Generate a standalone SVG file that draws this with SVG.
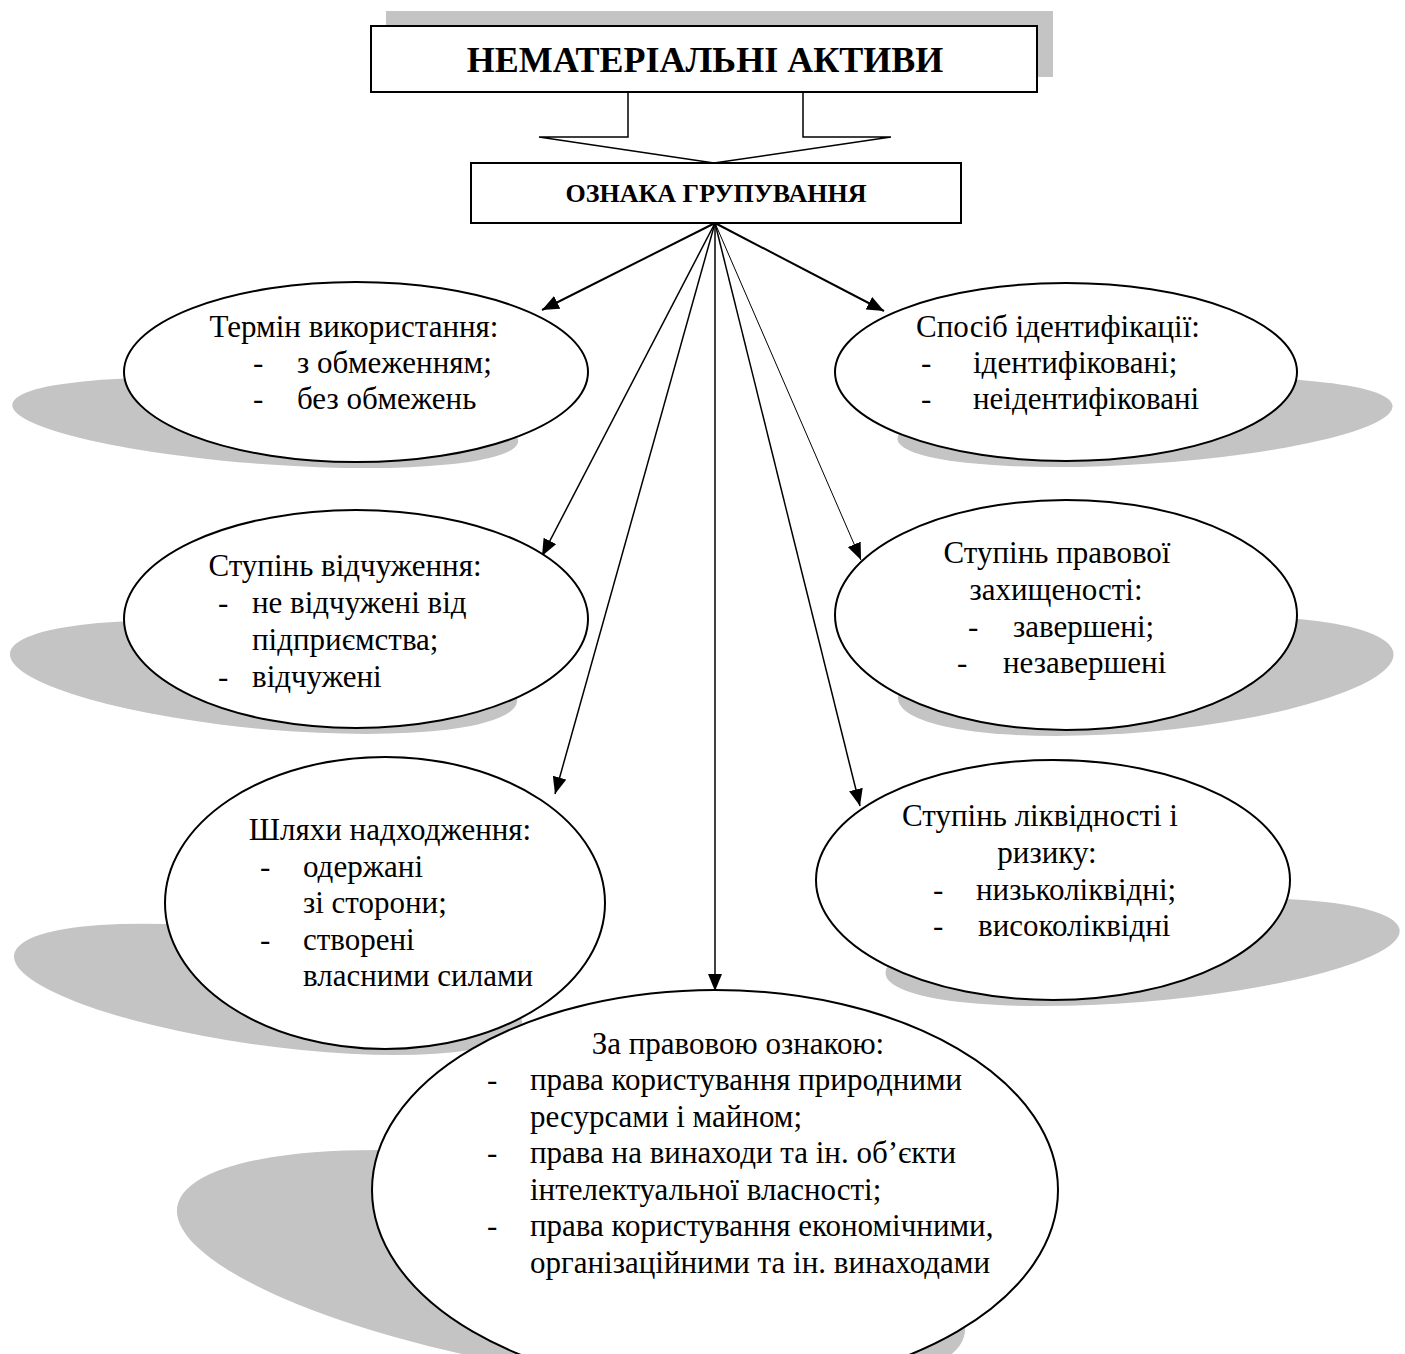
<svg xmlns="http://www.w3.org/2000/svg" width="1405" height="1354" viewBox="0 0 1405 1354">
<style>
text{font-family:"Liberation Serif","Times New Roman",serif;fill:#000}
.t{font-size:31px}
.c{text-anchor:middle}
.node{fill:#fff;stroke:#000;stroke-width:2}
.shadow{fill:#c4c4c4;stroke:none}
.con{stroke:#000;fill:none}
</style>
<defs>
<marker id="ah" markerUnits="userSpaceOnUse" markerWidth="18" markerHeight="14" refX="17" refY="7" orient="auto">
<path d="M0,0 L17,7 L0,14 z" fill="#000"/>
</marker>
</defs>
<rect width="1405" height="1354" fill="#fff"/>

<g id="title">
<rect x="386" y="11" width="667" height="66" class="shadow"/>
<rect x="371" y="26" width="666" height="66" class="node"/>
<text x="705" y="72" class="c" style="font-size:36px;font-weight:bold">НЕМАТЕРІАЛЬНІ АКТИВИ</text>
</g>

<g id="group-sign">
<rect x="471" y="163" width="490" height="60" class="node"/>
<text x="716" y="202" class="c" style="font-size:26px;font-weight:bold">ОЗНАКА ГРУПУВАННЯ</text>
</g>

<g id="shadows">
<ellipse cx="356" cy="372" rx="232" ry="90" class="shadow" transform="matrix(1,0,1.12,0.5,-507.4,237)"/>
<ellipse cx="356" cy="619" rx="232" ry="109" class="shadow" transform="matrix(1,0,0.94,0.52,-674.3,355.4)"/>
<ellipse cx="385" cy="903" rx="220" ry="146" class="shadow" transform="matrix(1,0,0.87,0.45,-902.6,583)"/>
<ellipse cx="715" cy="1190" rx="343" ry="200" class="shadow" transform="matrix(1,0,0.97,0.6,-1298.3,556)"/>
<ellipse cx="1066" cy="372" rx="231" ry="89" class="shadow" transform="matrix(1,0,-1,0.5,451,236.5)"/>
<ellipse cx="1066" cy="615" rx="231" ry="115" class="shadow" transform="matrix(1,0,-0.78,0.52,559.4,356.4)"/>
<ellipse cx="1053" cy="880" rx="237" ry="120" class="shadow" transform="matrix(1,0,-0.83,0.45,820,556)"/>
</g>

<g id="connectors">
<polyline class="con" stroke-width="1.5" points="628,92 628,137 539,137 714,163 891,137 803,137 803,92"/>
<line class="con" stroke-width="2" x1="715" y1="223" x2="542" y2="310" marker-end="url(#ah)"/>
<line class="con" stroke-width="2" x1="715" y1="223" x2="884" y2="311" marker-end="url(#ah)"/>
<line class="con" stroke-width="1.5" x1="715" y1="223" x2="542" y2="556" marker-end="url(#ah)"/>
<line class="con" stroke-width="1" x1="715" y1="223" x2="861" y2="560" marker-end="url(#ah)"/>
<line class="con" stroke-width="1.5" x1="715" y1="223" x2="555" y2="794" marker-end="url(#ah)"/>
<line class="con" stroke-width="1.5" x1="715" y1="223" x2="860" y2="806" marker-end="url(#ah)"/>
<line class="con" stroke-width="1.5" x1="715" y1="223" x2="715" y2="991" marker-end="url(#ah)"/>
</g>

<g id="term">
<ellipse cx="356" cy="372" rx="232" ry="90" class="node"/>
<text class="t c" x="354" y="337">Термін використання:</text>
<text class="t" x="253" y="373">-</text><text class="t" x="297" y="373">з обмеженням;</text>
<text class="t" x="253" y="409">-</text><text class="t" x="297" y="409">без обмежень</text>
</g>

<g id="identification">
<ellipse cx="1066" cy="372" rx="231" ry="89" class="node"/>
<text class="t c" x="1058" y="337">Спосіб ідентифікації:</text>
<text class="t" x="921" y="373">-</text><text class="t" x="973" y="373">ідентифіковані;</text>
<text class="t" x="921" y="409">-</text><text class="t" x="973" y="409">неідентифіковані</text>
</g>

<g id="alienation">
<ellipse cx="356" cy="619" rx="232" ry="109" class="node"/>
<text class="t c" x="345" y="576">Ступінь відчуження:</text>
<text class="t" x="218" y="613">-</text><text class="t" x="252" y="613">не відчужені від</text>
<text class="t" x="252" y="650">підприємства;</text>
<text class="t" x="218" y="687">-</text><text class="t" x="252" y="687">відчужені</text>
</g>

<g id="legal-protection">
<ellipse cx="1066" cy="615" rx="231" ry="115" class="node"/>
<text class="t c" x="1057" y="563">Ступінь правової</text>
<text class="t c" x="1056" y="600">захищеності:</text>
<text class="t" x="968" y="637">-</text><text class="t" x="1013" y="637">завершені;</text>
<text class="t" x="957" y="673">-</text><text class="t" x="1003" y="673">незавершені</text>
</g>

<g id="receipt">
<ellipse cx="385" cy="903" rx="220" ry="146" class="node"/>
<text class="t c" x="390" y="840">Шляхи надходження:</text>
<text class="t" x="260" y="877">-</text><text class="t" x="303" y="877">одержані</text>
<text class="t" x="303" y="913">зі сторони;</text>
<text class="t" x="260" y="950">-</text><text class="t" x="303" y="950">створені</text>
<text class="t" x="303" y="986">власними силами</text>
</g>

<g id="liquidity">
<ellipse cx="1053" cy="880" rx="237" ry="120" class="node"/>
<text class="t c" x="1040" y="826">Ступінь ліквідності і</text>
<text class="t c" x="1047" y="863">ризику:</text>
<text class="t" x="933" y="900">-</text><text class="t" x="976" y="900">низьколіквідні;</text>
<text class="t" x="933" y="936">-</text><text class="t" x="978" y="936">високоліквідні</text>
</g>

<g id="legal-sign">
<ellipse cx="715" cy="1190" rx="343" ry="200" class="node"/>
<text class="t c" x="738" y="1054">За правовою ознакою:</text>
<text class="t" x="487" y="1090">-</text><text class="t" x="530" y="1090">права користування природними</text>
<text class="t" x="530" y="1127">ресурсами і майном;</text>
<text class="t" x="487" y="1163">-</text><text class="t" x="530" y="1163">права на винаходи та ін. об’єкти</text>
<text class="t" x="530" y="1200">інтелектуальної власності;</text>
<text class="t" x="487" y="1236">-</text><text class="t" x="530" y="1236">права користування економічними,</text>
<text class="t" x="530" y="1273">організаційними та ін. винаходами</text>
</g>
</svg>
